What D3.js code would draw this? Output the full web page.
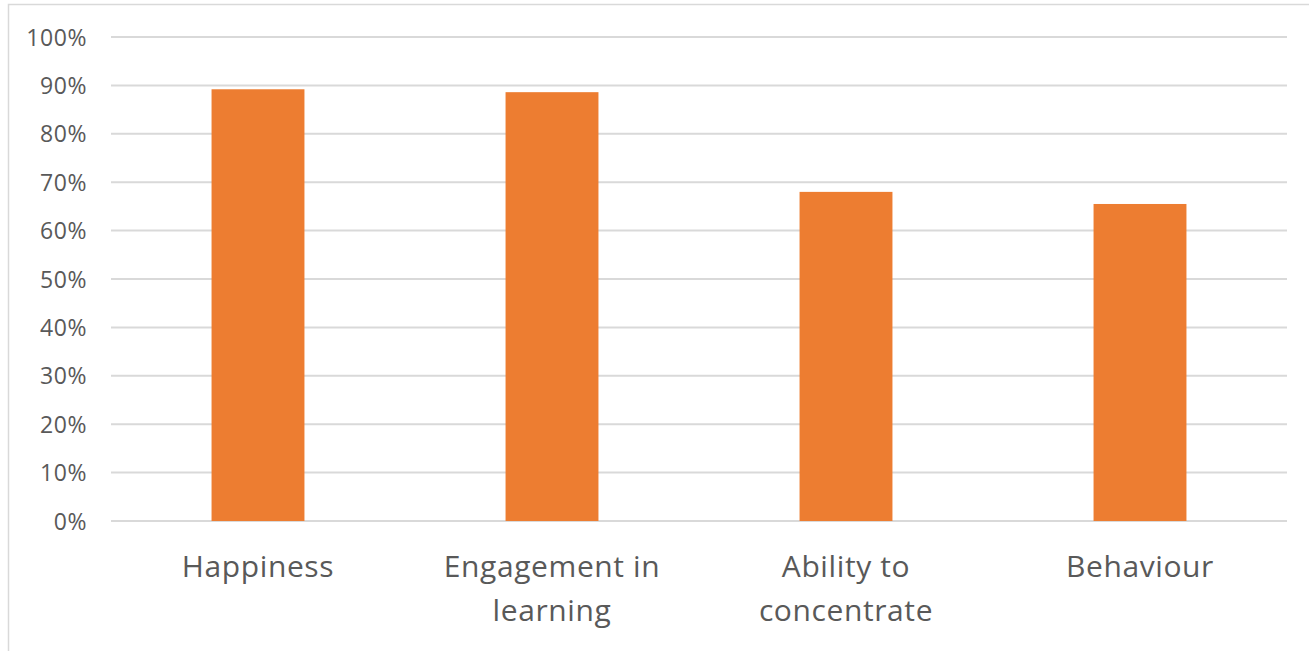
<!DOCTYPE html>
<html>
<head>
<meta charset="utf-8">
<script src="https://cdn.jsdelivr.net/npm/d3@7"></script>
<style>
  html, body { margin: 0; padding: 0; background: #fff; }
  svg { display: block; }
  text { font-family: "Open Sans", "Noto Sans", sans-serif; fill: #595959; }
</style>
</head>
<body>
<svg id="chart" width="1309" height="651"></svg>
<script>
const categories = [["Happiness"], ["Engagement in", "learning"], ["Ability to", "concentrate"], ["Behaviour"]];
const values = [0.892, 0.886, 0.680, 0.655];
const tickValues = [0, 0.1, 0.2, 0.3, 0.4, 0.5, 0.6, 0.7, 0.8, 0.9, 1.0];

const width = 1309, height = 651;
const margin = { left: 111, right: 22, top: 37, bottom: 130 };
const svg = d3.select("#chart");

// chart area frame
svg.append("rect")
  .attr("x", 8.5).attr("y", 4.5)
  .attr("width", width + 10).attr("height", height + 10)
  .attr("fill", "none").attr("stroke", "#D9D9D9").attr("stroke-width", 1.5);

const keys = categories.map(c => c.join(" "));
const x = d3.scaleBand()
  .domain(keys)
  .range([margin.left, width - margin.right])
  .paddingInner(0.684)
  .paddingOuter(0.342);

const y = d3.scaleLinear()
  .domain([0, 1])
  .range([height - margin.bottom, margin.top]);

// horizontal gridlines
svg.append("g")
  .selectAll("line")
  .data(tickValues)
  .join("line")
  .attr("x1", margin.left).attr("x2", width - margin.right)
  .attr("y1", d => y(d)).attr("y2", d => y(d))
  .attr("stroke", "#D9D9D9").attr("stroke-width", 2);

// y tick labels
const yAxis = d3.axisLeft(y).tickValues(tickValues).tickFormat(d3.format(".0%")).tickSize(0).tickPadding(0);
const yg = svg.append("g").attr("transform", `translate(87,0)`).call(yAxis);
yg.select(".domain").remove();
yg.selectAll("text")
  .attr("font-size", 23)
  .attr("font-family", "Open Sans, sans-serif")
  .attr("fill", "#595959")
  .attr("letter-spacing", 0.6)
  .attr("dy", "0.35em");

// bars
svg.append("g")
  .selectAll("rect")
  .data(values)
  .join("rect")
  .attr("x", (d, i) => x(keys[i]))
  .attr("width", x.bandwidth())
  .attr("y", d => y(d))
  .attr("height", d => y(0) - y(d))
  .attr("fill", "#ED7D31");

// category labels
const labels = svg.append("g")
  .selectAll("text")
  .data(categories)
  .join("text")
  .attr("x", (d, i) => x(keys[i]) + x.bandwidth() / 2)
  .attr("y", 577)
  .attr("text-anchor", "middle")
  .attr("letter-spacing", 0.6)
  .attr("font-size", 30);
labels.selectAll("tspan")
  .data(d => d)
  .join("tspan")
  .attr("x", function () { return d3.select(this.parentNode).attr("x"); })
  .attr("dy", (d, i) => i === 0 ? 0 : 44)
  .text(d => d);
</script>
</body>
</html>
